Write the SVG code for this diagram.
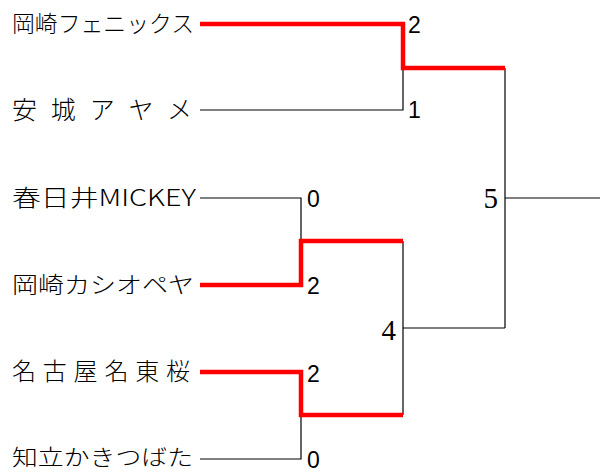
<svg xmlns="http://www.w3.org/2000/svg" width="600" height="472" viewBox="0 0 600 472">
<style>
.name{font-family:"Noto Sans CJK JP","Liberation Serif",serif;font-size:23px;fill:#000;font-weight:300}
.score{font-family:"Liberation Sans",Arial,sans-serif;font-size:23px;fill:#000}
.round{font-family:"Liberation Serif","Times New Roman",serif;font-size:29px;fill:#000}
.blk{fill:none;stroke:#000;stroke-width:1.2}
.win{fill:none;stroke:#ff0000;stroke-width:4.5;stroke-linejoin:miter}
</style>
<rect width="600" height="472" fill="#fff"/>
<g id="connectors">
  <path class="blk" d="M200,110 H403 V68"/>
  <path class="blk" d="M200,198 H301 V241"/>
  <path class="blk" d="M200,459 H301 V415"/>
  <path class="blk" d="M403,241 V415"/>
  <path class="blk" d="M403,328 H505"/>
  <path class="blk" d="M505,68 V328"/>
  <path class="blk" d="M505,198 H600"/>
  <path class="win" d="M200,24 H403 V68 H505"/>
  <path class="win" d="M200,285 H301 V241 H403"/>
  <path class="win" d="M200,372 H301 V415 H403"/>
</g>
<g id="team1"><text class="name" x="12" y="32" textLength="182" lengthAdjust="spacingAndGlyphs">岡崎フェニックス</text></g>
<g id="team2"><text class="name" x="12" y="119" textLength="180" lengthAdjust="spacing" style="font-size:25px">安城アヤメ</text></g>
<g id="team3"><text class="name" x="12" y="206" textLength="184" lengthAdjust="spacingAndGlyphs">春日井MICKEY</text></g>
<g id="team4"><text class="name" x="12" y="293" textLength="182" lengthAdjust="spacingAndGlyphs">岡崎カシオペヤ</text></g>
<g id="team5"><text class="name" x="12" y="380" textLength="178" lengthAdjust="spacing" style="font-size:24px">名古屋名東桜</text></g>
<g id="team6"><text class="name" x="12" y="465" textLength="181" lengthAdjust="spacingAndGlyphs" style="font-size:22px">知立かきつばた</text></g>
<g id="scores">
  <text class="score" x="408" y="33">2</text>
  <text class="score" x="408" y="118">1</text>
  <text class="score" x="307" y="207">0</text>
  <text class="score" x="307" y="294">2</text>
  <text class="score" x="307" y="382">2</text>
  <text class="score" x="307" y="468">0</text>
</g>
<g id="round-labels">
  <text class="round" x="396" y="340" text-anchor="end">4</text>
  <text class="round" x="498" y="208" text-anchor="end">5</text>
</g>
</svg>
